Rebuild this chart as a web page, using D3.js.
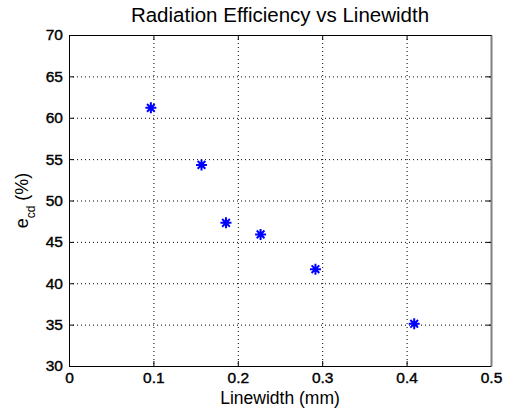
<!DOCTYPE html>
<html>
<head>
<meta charset="utf-8">
<script src="https://cdn.jsdelivr.net/npm/d3@7"></script>
<style>
  body { margin: 0; background: #fff; }
  text { font-family: "Liberation Sans", Arial, sans-serif; fill: #000; }
</style>
</head>
<body>
<svg id="chart" width="506" height="414"></svg>
<script>
// data
var linewidth = [0.097, 0.157, 0.186, 0.227, 0.292, 0.409];
var efficiency = [61.2, 54.3, 47.3, 45.9, 41.7, 35.1];
var xTicks = [0, 0.1, 0.2, 0.3, 0.4, 0.5];
var yTicks = [30, 35, 40, 45, 50, 55, 60, 65, 70];

var svg = d3.select("#chart");
var margin = { top: 35, right: 15, bottom: 48, left: 69 };
var width = 506 - margin.left - margin.right;
var height = 414 - margin.top - margin.bottom;

var g = svg.append("g")
  .attr("transform", "translate(" + margin.left + "," + margin.top + ")");

var x = d3.scaleLinear().domain([0, 0.5]).range([0, width]);
var y = d3.scaleLinear().domain([30, 70]).range([height, 0]);

// grid
g.selectAll(".vgrid")
  .data(xTicks.slice(1, -1))
  .enter().append("line")
  .attr("x1", d => x(d) + 0.5).attr("x2", d => x(d) + 0.5)
  .attr("y1", 0).attr("y2", height)
  .attr("stroke", "#000").attr("stroke-width", 1)
  .attr("stroke-dasharray", "1,3");

g.selectAll(".hgrid")
  .data(yTicks.slice(1, -1))
  .enter().append("line")
  .attr("y1", d => y(d) + 0.5).attr("y2", d => y(d) + 0.5)
  .attr("x1", 0).attr("x2", width)
  .attr("stroke", "#000").attr("stroke-width", 1)
  .attr("stroke-dasharray", "1,3");

// axes, ticks pointing inward
var fmt = d => d;
var xAxis = g.append("g").attr("transform", "translate(0," + height + ")")
  .call(d3.axisBottom(x).tickValues(xTicks).tickFormat(fmt).tickSizeInner(-5).tickSizeOuter(0).tickPadding(6));
var xTop = g.append("g")
  .call(d3.axisTop(x).tickValues(xTicks).tickFormat("").tickSizeInner(-5).tickSizeOuter(0));
var yAxis = g.append("g")
  .call(d3.axisLeft(y).tickValues(yTicks).tickFormat(fmt).tickSizeInner(-5).tickSizeOuter(0).tickPadding(6));
var yRight = g.append("g").attr("transform", "translate(" + width + ",0)")
  .call(d3.axisRight(y).tickValues(yTicks).tickFormat("").tickSizeInner(-5).tickSizeOuter(0));

[xAxis, xTop, yAxis, yRight].forEach(a => {
  a.select(".domain").attr("stroke", "#000");
  a.selectAll(".tick line").attr("stroke", "#000");
  a.selectAll("text")
    .style("font-family", "'Liberation Sans', Arial, sans-serif")
    .style("font-size", "15.5px")
    .attr("fill", "#000")
    .attr("stroke", "#000")
    .attr("stroke-width", 0.4);
});
yRight.select(".domain").attr("stroke", "#808080").attr("stroke-width", 2);

// markers ('*' style)
var r = 5.5;
var star = "M0," + (-r) + "V" + r + "M" + (-r) + ",0H" + r +
  "M" + (-r * 0.7) + "," + (-r * 0.7) + "L" + (r * 0.7) + "," + (r * 0.7) +
  "M" + (-r * 0.7) + "," + (r * 0.7) + "L" + (r * 0.7) + "," + (-r * 0.7);

g.selectAll(".pt")
  .data(linewidth)
  .enter().append("path")
  .attr("class", "pt")
  .attr("transform", (d, i) => "translate(" + x(d) + "," + y(efficiency[i]) + ")")
  .attr("d", star)
  .attr("fill", "none")
  .attr("stroke", "#0000ff")
  .attr("stroke-width", 2);

// title
svg.append("text")
  .attr("x", margin.left + width / 2)
  .attr("y", 22)
  .attr("text-anchor", "middle")
  .style("font-size", "20.5px")
  .text("Radiation Efficiency vs Linewidth");

// x label
svg.append("text")
  .attr("x", margin.left + width / 2)
  .attr("y", 404)
  .attr("text-anchor", "middle")
  .style("font-size", "17.5px")
  .text("Linewidth (mm)");

// y label with subscript
var yl = svg.append("text")
  .attr("transform", "translate(28," + (margin.top + height / 2) + ") rotate(-90)")
  .attr("text-anchor", "middle")
  .style("font-size", "18px");
yl.append("tspan").text("e");
yl.append("tspan").attr("dy", 7).style("font-size", "12px").text("cd");
yl.append("tspan").attr("dy", -7).text(" (%)");
</script>
</body>
</html>
